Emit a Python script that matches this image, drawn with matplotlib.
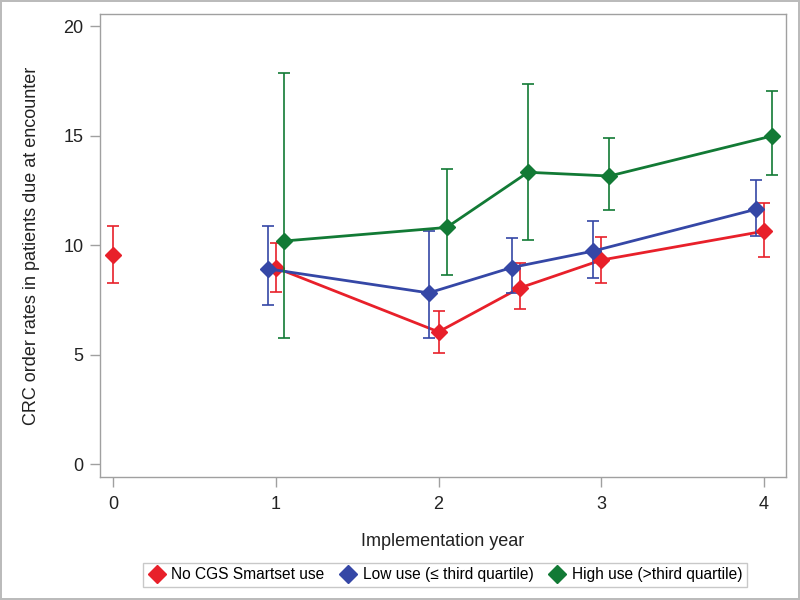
import matplotlib
matplotlib.use("Agg")
import matplotlib.pyplot as plt
from matplotlib.lines import Line2D

plt.rcParams['font.family'] = ['Liberation Sans', 'DejaVu Sans']

# Data
red_x = [0, 1, 2, 2.5, 3, 4]
red_y = [9.57, 8.98, 6.05, 8.06, 9.33, 10.65]
red_lo = [8.28, 7.88, 5.09, 7.10, 8.29, 9.48]
red_hi = [10.90, 10.09, 7.01, 9.18, 10.39, 11.92]

blue_x = [0.95, 1.94, 2.45, 2.95, 3.95]
blue_y = [8.93, 7.83, 8.99, 9.74, 11.65]
blue_lo = [7.26, 5.78, 7.81, 8.52, 10.43]
blue_hi = [10.90, 10.65, 10.35, 11.12, 12.99]

green_x = [1.05, 2.05, 2.55, 3.05, 4.05]
green_y = [10.20, 10.82, 13.34, 13.17, 15.00]
green_lo = [5.78, 8.63, 10.23, 11.61, 13.20]
green_hi = [17.88, 13.47, 17.38, 14.91, 17.04]

labels = ["No CGS Smartset use", "Low use (\u2264 third quartile)", "High use (>third quartile)"]
colors = ["#E8202A", "#3547A6", "#127A35"]
x_ticks = [0, 1, 2, 3, 4]
y_ticks = [0, 5, 10, 15, 20]

fig = plt.figure(figsize=(8, 6), dpi=100)
fig.patch.set_edgecolor('#BBBBBB')
fig.patch.set_linewidth(1.5)
ax = fig.add_axes([0.125, 0.205, 0.8575, 0.772])

series = [
    (red_x, red_y, red_lo, red_hi),
    (blue_x, blue_y, blue_lo, blue_hi),
    (green_x, green_y, green_lo, green_hi),
]
for i, ((xs, ys, lo, hi), c) in enumerate(zip(series, colors)):
    yerr = [[y - l for y, l in zip(ys, lo)], [h - y for y, h in zip(ys, hi)]]
    ax.errorbar(xs, ys, yerr=yerr, fmt='none', ecolor=c, elinewidth=1.2,
                capsize=4.5, capthick=1.2, zorder=2 + i)
    if i == 0:
        ax.plot(xs[1:], ys[1:], color=c, lw=2.0, zorder=3 + i)
        ax.plot(xs, ys, 'D', color=c, ms=8, mec=c, zorder=4 + i, lw=0)
    else:
        ax.plot(xs, ys, '-D', color=c, lw=2.0, ms=8, mec=c, zorder=3 + i)

ax.set_xlim(-0.08, 4.135)
ax.set_ylim(-0.58, 20.58)
ax.set_xticks(x_ticks)
ax.set_yticks(y_ticks)
for s in ax.spines.values():
    s.set_color('#A0A0A0')
    s.set_linewidth(1.0)
ax.tick_params(axis='both', colors='#A0A0A0', labelcolor='#222222',
               labelsize=13, length=7, width=1.0, direction='out')
ax.tick_params(axis='x', pad=7)
ax.tick_params(axis='y', pad=5)
ax.set_xlabel("Implementation year", fontsize=13, color='#222222', labelpad=14)
ax.set_ylabel("CRC order rates in patients due at encounter", fontsize=13,
              color='#222222', labelpad=17)

handles = [Line2D([], [], marker='D', color=c, lw=0, ms=9) for c in colors]
leg = fig.legend(handles, labels, loc='center', bbox_to_anchor=(0.556, 0.042),
                 ncol=3, frameon=True, fancybox=False, fontsize=11.2,
                 handletextpad=0.35, columnspacing=0.9, borderpad=0.3,
                 handlelength=1.2)
leg.get_frame().set_edgecolor('#BBBBBB')
leg.get_frame().set_linewidth(1.0)

fig.savefig("out.png", dpi=100)
